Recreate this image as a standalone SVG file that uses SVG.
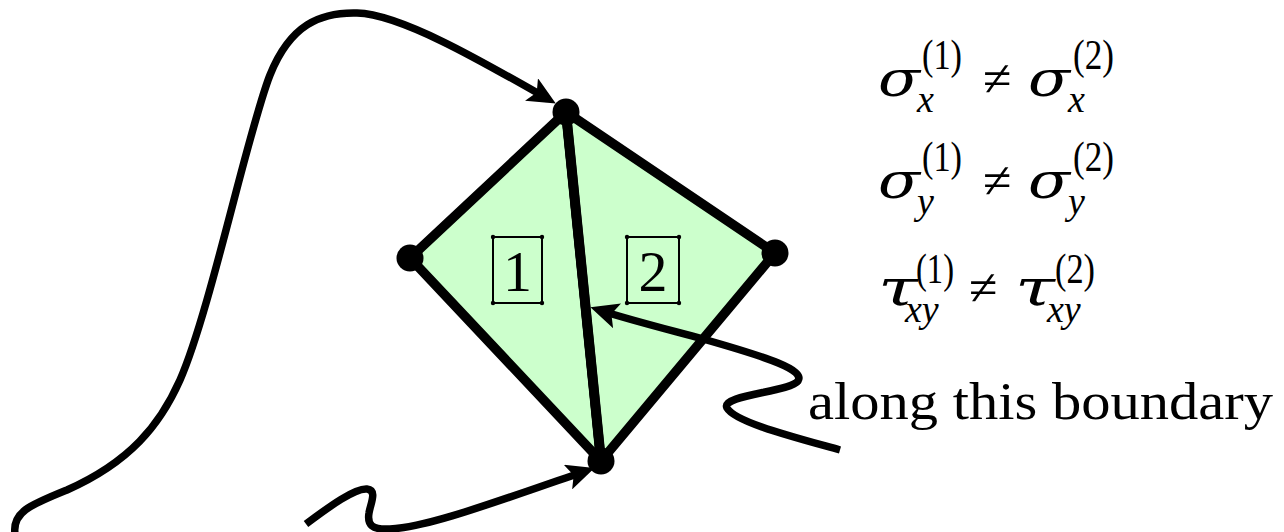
<svg xmlns="http://www.w3.org/2000/svg" width="1284" height="532" viewBox="0 0 1284 532">
<style>
.edge{fill:#ccffcc;stroke:#000;stroke-width:9.5;stroke-linejoin:round}
.diag{fill:none;stroke:#000;stroke-width:10;stroke-linecap:round}
.node{fill:#000}
.conn{fill:none;stroke:#000;stroke-width:7.5;stroke-linecap:butt}
.box{fill:none;stroke:#000;stroke-width:2}
.dot{fill:#000}
.num{font-family:"Liberation Serif",serif;font-size:58px;text-anchor:middle}
.greek{font-family:"DejaVu Serif",serif;font-style:italic;font-size:50px}
.sup{font-family:"Liberation Serif",serif;font-size:42px}
.sub{font-family:"Liberation Serif",serif;font-style:italic;font-size:38px}
.ne{font-family:"Liberation Serif",serif;font-size:52px}
.lbl{font-family:"Liberation Serif",serif;font-size:53px}
</style>
<defs>
<marker id="arr" viewBox="0 0 28 26" markerWidth="28" markerHeight="26" refX="19" refY="13" orient="auto" markerUnits="userSpaceOnUse">
<path d="M0,0 L28,13 L0,26 L6,13 Z" fill="#000"/>
</marker>
</defs>
<g id="elements">
<g id="element1">
<polygon class="edge" points="566,112 410,258 601,461"/>
<rect class="box" x="493" y="237" width="49" height="66"/>
<circle class="dot" cx="493" cy="237" r="2.2"/><circle class="dot" cx="542" cy="237" r="2.2"/><circle class="dot" cx="493" cy="303" r="2.2"/><circle class="dot" cx="542" cy="303" r="2.2"/>
<text class="num" x="517.5" y="291">1</text>
</g>
<g id="element2">
<polygon class="edge" points="566,112 775,253 601,461"/>
<rect class="box" x="627" y="237" width="52" height="66"/>
<circle class="dot" cx="627" cy="237" r="2.2"/><circle class="dot" cx="679" cy="237" r="2.2"/><circle class="dot" cx="627" cy="303" r="2.2"/><circle class="dot" cx="679" cy="303" r="2.2"/>
<text class="num" x="653" y="291">2</text>
</g>
<line class="diag" x1="566" y1="112" x2="601" y2="461"/>
</g>
<g id="nodes">
<circle id="n-top" class="node" cx="566" cy="112" r="13.5"/>
<circle id="n-left" class="node" cx="410" cy="258" r="13.5"/>
<circle id="n-right" class="node" cx="775" cy="253" r="13.5"/>
<circle id="n-bottom" class="node" cx="601" cy="461" r="13.5"/>
</g>
<g id="connectors">
<path class="conn" marker-end="url(#arr)" d="M15,534 C12,512 30,505 67,490 C130,462 160,425 180,380 C210,312 248,130 270,75 C290,25 320,12 357,13 C400,14 480,60 548,99"/>
<path class="conn" marker-end="url(#arr)" d="M306,524 C330,506 355,488 367,489 C378,490 370,505 369,513 C367,525 372,530 390,529 C430,527 500,500 586,471"/>
<path class="conn" marker-end="url(#arr)" d="M840,450 C790,436 735,422 727,408 C720,395 790,392 798,381 C805,370 770,358 703,339 C670,330 630,320 599,310"/>
</g>
<g id="formulas">
<text class="greek" x="878" y="96" textLength="42" lengthAdjust="spacingAndGlyphs">σ</text><text class="sup" x="922" y="69" textLength="40" lengthAdjust="spacingAndGlyphs">(1)</text><text class="sub" x="917" y="112">x</text>
<text class="ne" x="983" y="96">≠</text>
<text class="greek" x="1028" y="96" textLength="42" lengthAdjust="spacingAndGlyphs">σ</text><text class="sup" x="1073" y="69" textLength="41" lengthAdjust="spacingAndGlyphs">(2)</text><text class="sub" x="1068" y="112">x</text>
<text class="greek" x="878" y="198" textLength="42" lengthAdjust="spacingAndGlyphs">σ</text><text class="sup" x="922" y="171" textLength="40" lengthAdjust="spacingAndGlyphs">(1)</text><text class="sub" x="917" y="214">y</text>
<text class="ne" x="983" y="198">≠</text>
<text class="greek" x="1028" y="198" textLength="42" lengthAdjust="spacingAndGlyphs">σ</text><text class="sup" x="1073" y="171" textLength="41" lengthAdjust="spacingAndGlyphs">(2)</text><text class="sub" x="1068" y="214">y</text>
<text class="greek" x="878" y="305" textLength="40" lengthAdjust="spacingAndGlyphs">τ</text><text class="sup" x="916" y="283" textLength="38" lengthAdjust="spacingAndGlyphs">(1)</text><text class="sub" x="905" y="322">xy</text>
<text class="ne" x="969" y="305">≠</text>
<text class="greek" x="1015" y="305" textLength="40" lengthAdjust="spacingAndGlyphs">τ</text><text class="sup" x="1055" y="283" textLength="40" lengthAdjust="spacingAndGlyphs">(2)</text><text class="sub" x="1047" y="322">xy</text>
</g>
<text class="lbl" x="808" y="419" textLength="465" lengthAdjust="spacingAndGlyphs">along this boundary</text>
</svg>
